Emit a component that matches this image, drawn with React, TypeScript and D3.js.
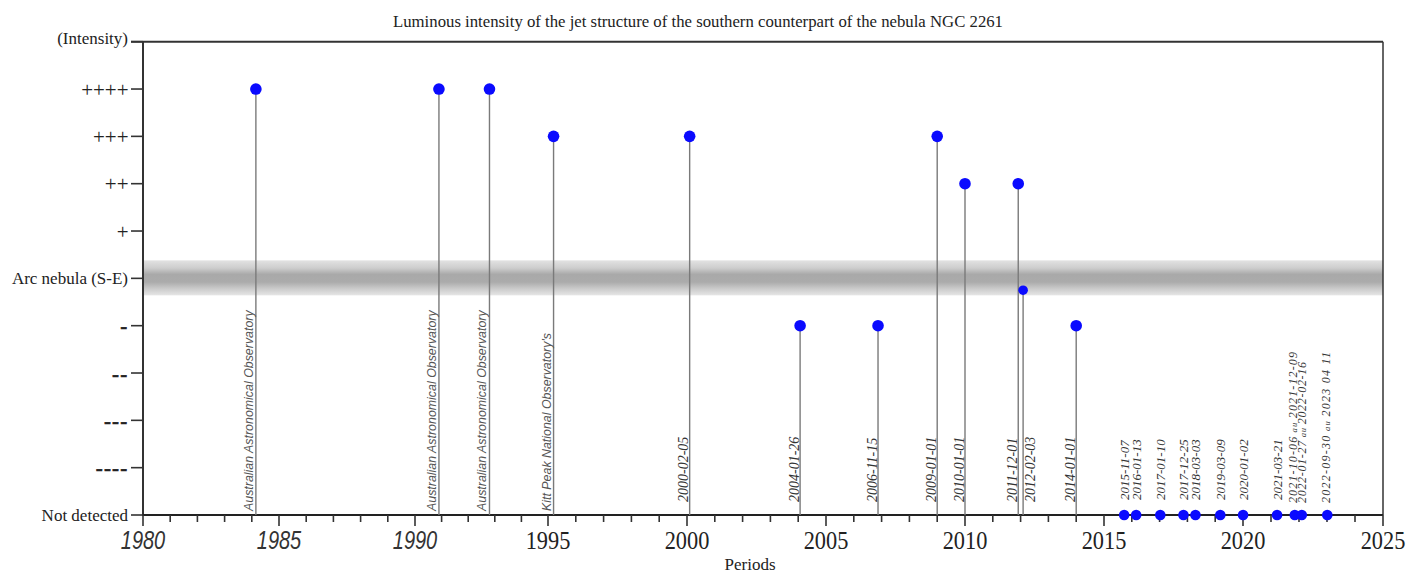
import React from "react";
import * as d3 from "d3";

// ---------- data ----------
const chartTitle =
  "Luminous intensity of the jet structure of the southern counterpart of the nebula NGC 2261";
const xAxisTitle = "Periods";
const intensityLabels = [
  "Not detected",
  "----",
  "---",
  "--",
  "-",
  "Arc nebula (S-E)",
  "+",
  "++",
  "+++",
  "++++",
  "(Intensity)",
];
const arcNebulaLevel = 5;
const yearTicks = [1980, 1985, 1990, 1995, 2000, 2005, 2010, 2015, 2020, 2025];

// early observations (no date printed; year read from position)
const observatoryYears = [1984.15, 1990.9, 1992.8, 1995.2];
const observatoryLevels = [9, 9, 9, 8];
const observatoryNames = [
  "Australian Astronomical Observatory",
  "Australian Astronomical Observatory",
  "Australian Astronomical Observatory",
  "Kitt Peak National Observatory's",
];

// dated observations
const datedObsDates = [
  "2000-02-05",
  "2004-01-26",
  "2006-11-15",
  "2009-01-01",
  "2010-01-01",
  "2011-12-01",
  "2012-02-03",
  "2014-01-01",
];
const datedObsLevels = [8, 4, 4, 8, 7, 7, 4.75, 4];

// not detected
const notDetectedDates = [
  "2015-11-07",
  "2016-01-13",
  "2017-01-10",
  "2017-12-25",
  "2018-03-03",
  "2019-03-09",
  "2020-01-02",
  "2021-03-21",
];
const notDetectedRangeStarts = ["2021-10-06", "2022-01-27", "2022-09-30"];
const notDetectedRangeEnds = ["2021-12-09", "2022-02-16", "2023-04-11"];
const notDetectedRangeLabels = [
  "2021-10-06 au 2021-12-09",
  "2022-01-27 au 2022-02-16",
  "2022-09-30 au 2023 04 11",
];

// ---------- helpers ----------
function toYear(s: string): number {
  const [y, m, d] = s.split("-").map(Number);
  const start = Date.UTC(y, 0, 1);
  const end = Date.UTC(y + 1, 0, 1);
  return y + (Date.UTC(y, m - 1, d) - start) / (end - start);
}

// spread positions that are closer than minGap
function dodge(xs: number[], minGap: number): number[] {
  const out = xs.slice();
  for (let pass = 0; pass < 10; pass++) {
    for (let i = 1; i < out.length; i++) {
      const gap = out[i] - out[i - 1];
      if (gap < minGap) {
        const o = (minGap - gap) / 2;
        out[i - 1] -= o;
        out[i] += o;
      }
    }
  }
  return out;
}

const W = 1409;
const H = 575;
const left = 143;
const right = 1383;
const top = 41.7;
const bottom = 515;

const x = d3
  .scaleLinear()
  .domain([1980, 1990, 1995, 2020, 2025])
  .range([left, 415, 548, 1243, right]);
const y = d3.scaleLinear().domain([0, 10]).range([bottom, top]);

const serif = "'Liberation Serif', 'Times New Roman', serif";
const sans = "'Liberation Sans', Arial, sans-serif";
const dotColor = "#0a0aff";
const stemColor = "#7a7a7a";

function RangeLabel({ text, size }: { text: string; size: number }) {
  const parts = text.split(" au ");
  return (
    <>
      <tspan>{parts[0]}</tspan>
      <tspan fontSize={size * 0.72}> au </tspan>
      <tspan>{parts[1]}</tspan>
    </>
  );
}

export default function App() {
  const minorYears = d3.range(1980, 2026);

  const stemmed = [
    ...observatoryYears.map((yr, i) => ({
      year: yr,
      level: observatoryLevels[i],
      label: observatoryNames[i],
      kind: "obs",
      side: "left",
    })),
    ...datedObsDates.map((d, i) => {
      const yr = toYear(d);
      const prev = i > 0 ? toYear(datedObsDates[i - 1]) : -1e9;
      return {
        year: yr,
        level: datedObsLevels[i],
        label: d,
        kind: "date",
        side: yr - prev < 0.3 ? "right" : "left",
      };
    }),
  ];

  const ndX = dodge(
    notDetectedDates.map((d) => x(toYear(d))),
    12
  );
  const rangeX = notDetectedRangeStarts.map((s, i) =>
    x((toYear(s) + toYear(notDetectedRangeEnds[i])) / 2)
  );
  const rangeLabelX = dodge(rangeX, 8.5);

  return (
    <svg
      width={W}
      height={H}
      style={{ position: "absolute", left: 0, top: 0, background: "#fff" }}
    >
      <defs>
        <linearGradient id="arcBand" x1="0" y1="0" x2="0" y2="1">
          <stop offset="0%" stopColor="#e2e2e2" />
          <stop offset="22%" stopColor="#cdcdcd" />
          <stop offset="40%" stopColor="#a9a9a9" />
          <stop offset="62%" stopColor="#ababab" />
          <stop offset="80%" stopColor="#c9c9c9" />
          <stop offset="100%" stopColor="#e6e6e6" />
        </linearGradient>
      </defs>

      {/* title */}
      <text
        x={393}
        y={27}
        fontFamily={serif}
        fontSize={17}
        fill="#222"
        textLength={610}
        lengthAdjust="spacingAndGlyphs"
      >
        {chartTitle}
      </text>

      {/* arc nebula band */}
      <rect
        x={left}
        y={y(arcNebulaLevel) - 18}
        width={right - left}
        height={35}
        fill="url(#arcBand)"
      />

      {/* frame */}
      <line x1={131} x2={right} y1={top} y2={top} stroke="#333" strokeWidth={2} />
      <line x1={right} x2={right} y1={top} y2={bottom} stroke="#333" strokeWidth={1.5} />
      <line x1={left} x2={left} y1={top} y2={bottom + 1} stroke="#333" strokeWidth={2} />
      <line x1={left - 1} x2={right} y1={bottom} y2={bottom} stroke="#222" strokeWidth={2} />

      {/* y ticks + labels */}
      {intensityLabels.map((lab, i) => {
        const symbolic = /^[+-]+$/.test(lab);
        const dash = lab.startsWith("-");
        return (
          <g key={"yt" + i}>
            <line x1={131} x2={left} y1={y(i)} y2={y(i)} stroke="#333" strokeWidth={1.6} />
            <text
              x={symbolic ? 128.5 : 128}
              y={y(i) - (i === 10 ? 3 : 0) + (symbolic ? 0.5 : 0)}
              textAnchor="end"
              dominantBaseline="central"
              fontFamily={serif}
              fontSize={symbolic ? 21 : 17}
              fontWeight={dash ? 700 : 400}
              stroke={dash ? "#222" : "none"}
              strokeWidth={dash ? 0.5 : 0}
              letterSpacing={dash ? 1.2 : 0}
              fill="#222"
            >
              {lab}
            </text>
          </g>
        );
      })}

      {/* x ticks */}
      {minorYears.map((yr) => {
        const major = yr % 5 === 0;
        return (
          <line
            key={"xt" + yr}
            x1={x(yr)}
            x2={x(yr)}
            y1={bottom}
            y2={bottom + (major ? 11 : 7)}
            stroke="#333"
            strokeWidth={1.6}
          />
        );
      })}
      {yearTicks.map((yr) => {
        const early = yr < 1995;
        return (
          <text
            key={"xl" + yr}
            transform={`translate(${x(yr)},${549}) scale(${early ? 0.8 : 0.86},1)`}
            textAnchor="middle"
            fontFamily={early ? sans : serif}
            fontStyle={early ? "italic" : "normal"}
            fontSize={early ? 25 : 26}
            fill={early ? "#333" : "#222"}
          >
            {yr}
          </text>
        );
      })}
      <text
        x={750}
        y={570}
        textAnchor="middle"
        fontFamily={serif}
        fontSize={17}
        fill="#222"
      >
        {xAxisTitle}
      </text>

      {/* stems */}
      {stemmed.map((p, i) => (
        <line
          key={"st" + i}
          x1={x(p.year)}
          x2={x(p.year)}
          y1={y(p.level)}
          y2={bottom}
          stroke={stemColor}
          strokeWidth={1.4}
        />
      ))}

      {/* stem labels */}
      {stemmed.map((p, i) => {
        const sx = x(p.year);
        if (p.kind === "obs") {
          return (
            <text
              key={"sl" + i}
              transform={`translate(${sx - 3},${511}) rotate(-90)`}
              fontFamily={sans}
              fontStyle="italic"
              fontSize={12.4}
              fill="#555"
            >
              {p.label}
            </text>
          );
        }
        const bx = p.side === "right" ? sx + 12 : sx - 1.5;
        return (
          <text
            key={"sl" + i}
            transform={`translate(${bx},${502}) rotate(-90)`}
            fontFamily={serif}
            fontStyle="italic"
            fontSize={14}
            fill="#333"
          >
            {p.label}
          </text>
        );
      })}

      {/* not detected labels */}
      {notDetectedDates.map((d, i) => (
        <text
          key={"nl" + i}
          transform={`translate(${ndX[i] + 4.5},${500}) rotate(-90)`}
          fontFamily={serif}
          fontStyle="italic"
          fontSize={13}
          fill="#333"
        >
          {d}
        </text>
      ))}
      {notDetectedRangeLabels.map((lab, i) => (
        <text
          key={"rl" + i}
          transform={`translate(${rangeLabelX[i] + 3},${503}) rotate(-90)`}
          fontFamily={serif}
          fontStyle="italic"
          fontSize={12}
          textLength={i === 1 ? 141 : 151}
          fill="#333"
        >
          <RangeLabel text={lab} size={12} />
        </text>
      ))}

      {/* dots */}
      {stemmed.map((p, i) => (
        <circle
          key={"d" + i}
          cx={x(p.year)}
          cy={y(p.level)}
          r={Number.isInteger(p.level) ? 5.8 : 4.8}
          fill={dotColor}
        />
      ))}
      {ndX.map((cx, i) => (
        <circle key={"nd" + i} cx={cx} cy={bottom} r={5.3} fill={dotColor} />
      ))}
      {rangeX.map((cx, i) => (
        <circle key={"rd" + i} cx={cx} cy={bottom} r={5.3} fill={dotColor} />
      ))}
    </svg>
  );
}
